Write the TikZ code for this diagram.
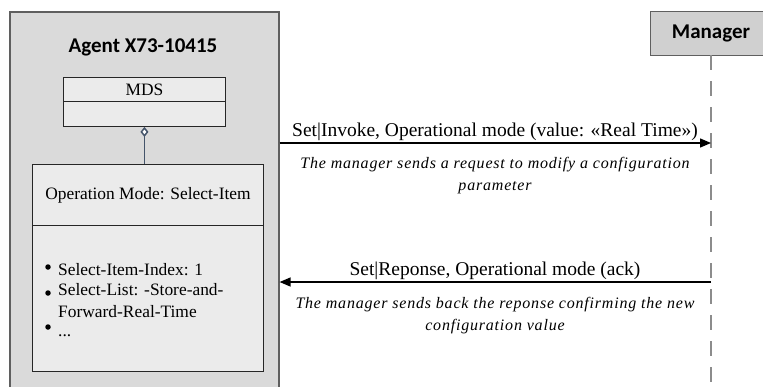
\documentclass[tikz,border=0pt]{standalone}
\usepackage{fontspec}
\setmainfont{Liberation Serif}
\newfontfamily\titlefont{Carlito}
\newfontfamily\notefont[LetterSpace=5]{Liberation Serif}
\usetikzlibrary{arrows.meta}
\definecolor{agentfill}{HTML}{DADADA}
\definecolor{agentline}{HTML}{5F5F5F}
\definecolor{innerfill}{HTML}{EBEBEB}
\definecolor{mgrfill}{HTML}{D0D0D0}
\definecolor{linkblue}{HTML}{44546A}
\definecolor{lifegray}{HTML}{8C8C8C}
\tikzset{
  agentbox/.style={draw=agentline, line width=1.6pt, fill=agentfill, anchor=north west, inner sep=0pt},
  mgrbox/.style={draw=agentline, line width=1.2pt, fill=mgrfill, anchor=north west, inner sep=0pt},
  classbox/.style={draw=black!85, line width=0.9pt, fill=innerfill, anchor=north west, inner sep=0pt},
  titletext/.style={font=\titlefont\bfseries\fontsize{21}{24}\selectfont},
  bodytext/.style={font=\fontsize{17.4}{22}\selectfont},
  attrtext/.style={bodytext, anchor=west, inner sep=1pt, align=left},
  bulletdot/.style={circle, fill=black, inner sep=0pt, minimum size=5.5pt},
  msgtext/.style={font=\fontsize{19.5}{22}\selectfont},
  notetext/.style={font=\notefont\itshape\fontsize{16}{22}\selectfont, align=center},
  msg/.style={-{Triangle[length=11pt,width=9pt]}, line width=1.4pt, black},
  lifeline/.style={draw=lifegray, line width=1.3pt, dash pattern=on 15pt off 11pt},
}
\begin{document}
\begin{tikzpicture}[x=1pt,y=-1pt]
\useasboundingbox (0,0) rectangle (763,386);
\clip (0,0) rectangle (763,386);
% Agent
\node[agentbox, minimum width=269pt, minimum height=400pt] (agent) at (9,11) {};
\node[titletext] (agenttitle) at (143,47) {Agent X73-10415};
% MDS class
\node[classbox, minimum width=162pt, minimum height=24pt, bodytext] (mds) at (63,77) {MDS};
\node[classbox, minimum width=162pt, minimum height=25pt] (mdsb) at (63,101) {};
% Operation mode class
\node[classbox, minimum width=231pt, minimum height=61pt, bodytext] (opm) at (32,164) {Operation Mode: Select-Item};
\node[classbox, minimum width=231pt, minimum height=146pt] (opmb) at (32,225) {};
\draw[linkblue, line width=1.5pt, {Diamond[open, fill=white, length=10pt, width=8pt]}-] (mdsb.south) -- (mdsb.south |- opm.north);
% attributes
\node[bulletdot] (b1) at (48,267) {};
\node[attrtext] (a1) at (57,270) {Select-Item-Index: 1};
\node[bulletdot] (b2) at (48,293) {};
\node[attrtext] (a2) at (57,301) {Select-List: -Store-and-\\Forward-Real-Time};
\node[bulletdot] (b3) at (48,327) {};
\node[attrtext, anchor=base west] (a4) at (57,336) {...};
% Manager
\node[mgrbox, minimum width=130pt, minimum height=44pt] (mgr) at (650,11) {};
\node[titletext] (mgrtitle) at (711,33) {Manager};
\coordinate (lifeend) at (711,392);
\draw[lifeline] (711,55) -- (lifeend);
% Messages
\coordinate (a1s) at (agent.east |- 0,143);
\coordinate (m1e) at (711,143);
\draw[msg] (a1s) -- (m1e);
\node[msgtext] (l1) at (495,132) {Set|Invoke, Operational mode (value: «Real Time»)};
\node[notetext] (n1) at (495,176) {The manager sends a request to modify a configuration\\parameter};
\coordinate (m2s) at (711,282);
\coordinate (a2e) at (agent.east |- 0,282);
\draw[msg] (m2s) -- (a2e);
\node[msgtext] (l2) at (495,271) {Set|Reponse, Operational mode (ack)};
\node[notetext] (n2) at (495,316) {The manager sends back the reponse confirming the new\\configuration value};
\end{tikzpicture}
\end{document}
